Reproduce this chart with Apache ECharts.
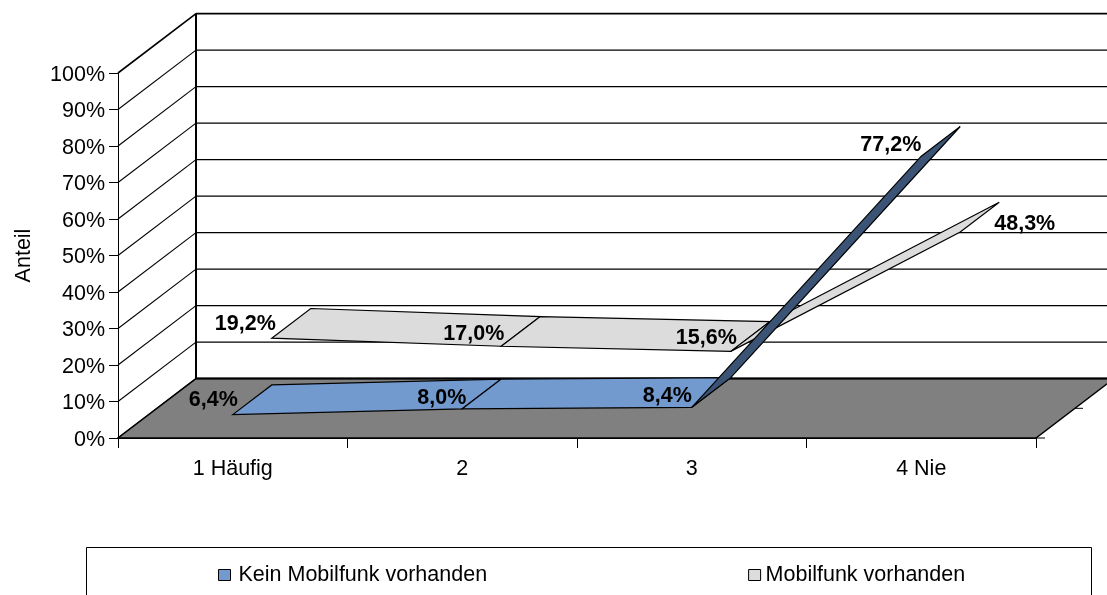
<!DOCTYPE html>
<html>
<head>
<meta charset="utf-8">
<style>html,body{margin:0;padding:0;background:#fff;overflow:hidden}#c{width:1107px;height:595px}</style>
<script src="https://cdn.jsdelivr.net/npm/echarts@6/dist/echarts.min.js"></script>
</head>
<body>
<div id="c"></div>
<script>
var categories = ['1 Häufig', '2', '3', '4 Nie'];
var keinMobilfunk = [6.4, 8.0, 8.4, 77.2];
var mobilfunk = [19.2, 17.0, 15.6, 48.3];
var yTicks = [0, 10, 20, 30, 40, 50, 60, 70, 80, 90, 100];
var seriesNames = ['Kein Mobilfunk vorhanden', 'Mobilfunk vorhanden'];

var FONT = '"Liberation Sans", Arial, sans-serif';
var FS = 21.5;
var DX = 78, DY = -59.4;               // full depth of the 3D box in pixels
var GRID = {left: 118, top: 73, width: 918, height: 365};
// label placement relative to each point (style only, not data)
var nudgeKein = [[5, -15, 'right'], [4, -11, 'right'], [0, -11, 'right'], [0, -11, 'right']];
var nudgeMobil = [[4, -14, 'right'], [3, -12, 'right'], [6, -13, 'right'], [34, -8, 'left']];

function fmt(v) { return v.toFixed(1).replace('.', ',') + '%'; }
function off(p, d) { return [p[0] + DX * d, p[1] + DY * d]; }
function poly(points, fill, lw) {
  return {type: 'polygon', shape: {points: points},
          style: {fill: fill, stroke: '#000', lineWidth: lw}};
}
function line(a, b, lw) {
  return {type: 'line', shape: {x1: a[0], y1: a[1], x2: b[0], y2: b[1]},
          style: {stroke: '#000', lineWidth: lw, fill: null}};
}

// gridlines on the left and back walls
function renderWall(params, api) {
  var v = api.value(1);
  var p = [GRID.left, api.coord([0, v])[1]];
  var back = off(p, 1);
  var top = v === 100;
  return {type: 'group', children: [
    line(p, back, top ? 1.6 : 1.1),
    line(back, [GRID.left + GRID.width + DX, back[1]], top ? 1.6 : 1.3)
  ]};
}
// floor and back-corner line
function renderFloor(params, api) {
  var y0 = api.coord([0, 0])[1], y1 = api.coord([0, 100])[1];
  var L = [GRID.left, y0], R = [GRID.left + GRID.width, y0];
  return {type: 'group', children: [
    line(off([GRID.left, y1], 1), off(L, 1), 2),
    poly([L, R, off(R, 1), off(L, 1)], '#808080', 1.5),
    line(off(L, 1), off(R, 1), 2),
    line(R, [R[0] + 9, R[1]], 1),
    line(off(R, 0.5), [off(R, 0.5)[0] + 8, off(R, 0.5)[1]], 1)
  ]};
}
// one ribbon segment per point, running from this point to the next one
function ribbon(values, depth, color, steepColor, nudge) {
  return function (params, api) {
    var i = params.dataIndex;
    var p = api.coord([i, values[i]]);
    var a = off(p, depth), children = [];
    if (i < values.length - 1) {
      var q = api.coord([i + 1, values[i + 1]]);
      var b = off(q, depth);
      var steep = Math.abs(values[i + 1] - values[i]) > 50;
      children.push(poly([a, off(a, 0.5), off(b, 0.5), b], steep ? steepColor : color, 1.2));
    }
    children.push({type: 'text', z2: 10, style: {
      text: fmt(values[i]),
      x: a[0] + nudge[i][0],
      y: a[1] + nudge[i][1],
      fill: '#000', font: 'bold ' + FS + 'px ' + FONT,
      align: nudge[i][2], verticalAlign: 'middle'
    }});
    return {type: 'group', children: children};
  };
}
function toData(vals) { return vals.map(function (v, i) { return [i, v]; }); }

var chart = echarts.init(document.getElementById('c'), null, {renderer: 'canvas'});
chart.setOption({
  animation: false,
  backgroundColor: '#fff',
  textStyle: {fontFamily: FONT},
  grid: {left: GRID.left, top: GRID.top, width: GRID.width, height: GRID.height, containLabel: false},
  xAxis: {
    type: 'category', data: categories, boundaryGap: true, z: 6,
    axisLine: {lineStyle: {color: '#000', width: 1}},
    axisTick: {show: true, length: 10, lineStyle: {color: '#000'}},
    axisLabel: {color: '#000', fontSize: FS, margin: 20, fontFamily: FONT, interval: 0},
    splitLine: {show: false}
  },
  yAxis: {
    type: 'value', min: 0, max: 100, interval: 10, z: 6,
    name: 'Anteil', nameLocation: 'middle', nameGap: 83,
    nameTextStyle: {color: '#000', fontSize: FS, fontFamily: FONT},
    axisLine: {show: true, lineStyle: {color: '#000', width: 1}},
    axisTick: {show: true, length: 9, lineStyle: {color: '#000'}},
    axisLabel: {color: '#000', fontSize: FS, margin: 13, formatter: '{value}%', fontFamily: FONT,
                verticalAlign: 'top', lineHeight: 4, hideOverlap: false},
    splitLine: {show: false}
  },
  legend: {
    data: [
      {name: seriesNames[0]},
      {name: seriesNames[1], textStyle: {padding: 0}}
    ],
    left: 218, top: 564, itemWidth: 12, itemHeight: 11, itemGap: 261,
    icon: 'rect', selectedMode: false,
    itemStyle: {borderColor: '#000', borderWidth: 1},
    textStyle: {color: '#000', fontSize: FS, fontFamily: FONT, padding: [0, 0, 0, 3]}, padding: 0
  },
  graphic: [{
    type: 'rect', left: 86, top: 547, silent: true, z: -1,
    shape: {width: 1005, height: 70},
    style: {fill: '#fff', stroke: '#000', lineWidth: 1}
  }],
  series: [
    {type: 'custom', name: 'walls', z: 1, clip: false, silent: true, renderItem: renderWall,
     data: yTicks.map(function (v) { return [0, v]; })},
    {type: 'custom', name: 'floor', z: 2, clip: false, silent: true, renderItem: renderFloor,
     data: [[0, 0]]},
    {type: 'custom', name: seriesNames[1], z: 3, clip: false, silent: true,
     itemStyle: {color: '#DCDCDC'},
     renderItem: ribbon(mobilfunk, 0.5, '#DCDCDC', '#DCDCDC', nudgeMobil), data: toData(mobilfunk)},
    {type: 'custom', name: seriesNames[0], z: 4, clip: false, silent: true,
     itemStyle: {color: '#729ACF'},
     renderItem: ribbon(keinMobilfunk, 0, '#729ACF', '#3B5374', nudgeKein), data: toData(keinMobilfunk)}
  ]
});
</script>
</body>
</html>
